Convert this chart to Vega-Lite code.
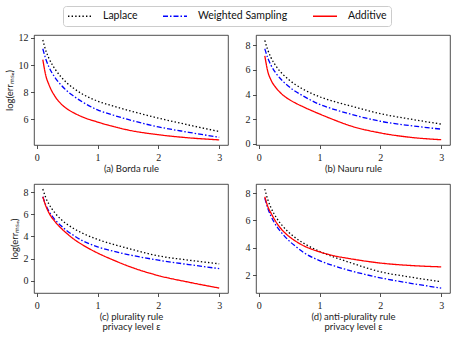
{
  "$schema": "https://vega.github.io/schema/vega-lite/v6.json",
  "padding": {"left": 3, "top": 5, "right": 4, "bottom": 3},
  "datasets": {
    "pts": [
      {"panel":"a","series":"Laplace","eps":0.1,"err":11.85},{"panel":"a","series":"Laplace","eps":0.15,"err":11.05},{"panel":"a","series":"Laplace","eps":0.2,"err":10.5},{"panel":"a","series":"Laplace","eps":0.3,"err":9.7},{"panel":"a","series":"Laplace","eps":0.4,"err":9.12},{"panel":"a","series":"Laplace","eps":0.5,"err":8.66},{"panel":"a","series":"Laplace","eps":0.6,"err":8.3},{"panel":"a","series":"Laplace","eps":0.75,"err":7.85},{"panel":"a","series":"Laplace","eps":1,"err":7.33},{"panel":"a","series":"Laplace","eps":1.25,"err":6.97},{"panel":"a","series":"Laplace","eps":1.5,"err":6.65},{"panel":"a","series":"Laplace","eps":2,"err":6.07},{"panel":"a","series":"Laplace","eps":2.5,"err":5.56},{"panel":"a","series":"Laplace","eps":3,"err":5.08},
      {"panel":"a","series":"Weighted Sampling","eps":0.1,"err":11.2},{"panel":"a","series":"Weighted Sampling","eps":0.15,"err":10.42},{"panel":"a","series":"Weighted Sampling","eps":0.2,"err":9.86},{"panel":"a","series":"Weighted Sampling","eps":0.3,"err":9.07},{"panel":"a","series":"Weighted Sampling","eps":0.4,"err":8.52},{"panel":"a","series":"Weighted Sampling","eps":0.5,"err":8.07},{"panel":"a","series":"Weighted Sampling","eps":0.6,"err":7.72},{"panel":"a","series":"Weighted Sampling","eps":0.75,"err":7.27},{"panel":"a","series":"Weighted Sampling","eps":1,"err":6.68},{"panel":"a","series":"Weighted Sampling","eps":1.25,"err":6.3},{"panel":"a","series":"Weighted Sampling","eps":1.5,"err":5.97},{"panel":"a","series":"Weighted Sampling","eps":2,"err":5.42},{"panel":"a","series":"Weighted Sampling","eps":2.5,"err":5.02},{"panel":"a","series":"Weighted Sampling","eps":3,"err":4.65},
      {"panel":"a","series":"Additive","eps":0.1,"err":10.4},{"panel":"a","series":"Additive","eps":0.15,"err":9.2},{"panel":"a","series":"Additive","eps":0.2,"err":8.55},{"panel":"a","series":"Additive","eps":0.3,"err":7.68},{"panel":"a","series":"Additive","eps":0.4,"err":7.12},{"panel":"a","series":"Additive","eps":0.5,"err":6.75},{"panel":"a","series":"Additive","eps":0.6,"err":6.48},{"panel":"a","series":"Additive","eps":0.75,"err":6.16},{"panel":"a","series":"Additive","eps":1,"err":5.78},{"panel":"a","series":"Additive","eps":1.25,"err":5.46},{"panel":"a","series":"Additive","eps":1.5,"err":5.19},{"panel":"a","series":"Additive","eps":2,"err":4.84},{"panel":"a","series":"Additive","eps":2.5,"err":4.61},{"panel":"a","series":"Additive","eps":3,"err":4.46},

      {"panel":"b","series":"Laplace","eps":0.1,"err":8.4},{"panel":"b","series":"Laplace","eps":0.15,"err":7.6},{"panel":"b","series":"Laplace","eps":0.2,"err":7.02},{"panel":"b","series":"Laplace","eps":0.3,"err":6.2},{"panel":"b","series":"Laplace","eps":0.4,"err":5.63},{"panel":"b","series":"Laplace","eps":0.5,"err":5.19},{"panel":"b","series":"Laplace","eps":0.6,"err":4.82},{"panel":"b","series":"Laplace","eps":0.75,"err":4.38},{"panel":"b","series":"Laplace","eps":1,"err":3.82},{"panel":"b","series":"Laplace","eps":1.25,"err":3.42},{"panel":"b","series":"Laplace","eps":1.5,"err":3.09},{"panel":"b","series":"Laplace","eps":2,"err":2.45},{"panel":"b","series":"Laplace","eps":2.5,"err":2.0},{"panel":"b","series":"Laplace","eps":3,"err":1.6},
      {"panel":"b","series":"Weighted Sampling","eps":0.1,"err":7.72},{"panel":"b","series":"Weighted Sampling","eps":0.15,"err":6.95},{"panel":"b","series":"Weighted Sampling","eps":0.2,"err":6.4},{"panel":"b","series":"Weighted Sampling","eps":0.3,"err":5.62},{"panel":"b","series":"Weighted Sampling","eps":0.4,"err":5.07},{"panel":"b","series":"Weighted Sampling","eps":0.5,"err":4.63},{"panel":"b","series":"Weighted Sampling","eps":0.6,"err":4.27},{"panel":"b","series":"Weighted Sampling","eps":0.75,"err":3.83},{"panel":"b","series":"Weighted Sampling","eps":1,"err":3.2},{"panel":"b","series":"Weighted Sampling","eps":1.25,"err":2.78},{"panel":"b","series":"Weighted Sampling","eps":1.5,"err":2.42},{"panel":"b","series":"Weighted Sampling","eps":2,"err":1.83},{"panel":"b","series":"Weighted Sampling","eps":2.5,"err":1.47},{"panel":"b","series":"Weighted Sampling","eps":3,"err":1.19},
      {"panel":"b","series":"Additive","eps":0.1,"err":7.15},{"panel":"b","series":"Additive","eps":0.15,"err":5.85},{"panel":"b","series":"Additive","eps":0.2,"err":5.2},{"panel":"b","series":"Additive","eps":0.3,"err":4.45},{"panel":"b","series":"Additive","eps":0.4,"err":3.95},{"panel":"b","series":"Additive","eps":0.5,"err":3.6},{"panel":"b","series":"Additive","eps":0.6,"err":3.32},{"panel":"b","series":"Additive","eps":0.75,"err":2.96},{"panel":"b","series":"Additive","eps":1,"err":2.42},{"panel":"b","series":"Additive","eps":1.25,"err":1.92},{"panel":"b","series":"Additive","eps":1.5,"err":1.47},{"panel":"b","series":"Additive","eps":2,"err":0.88},{"panel":"b","series":"Additive","eps":2.5,"err":0.52},{"panel":"b","series":"Additive","eps":3,"err":0.33},

      {"panel":"c","series":"Laplace","eps":0.1,"err":8.3},{"panel":"c","series":"Laplace","eps":0.15,"err":7.5},{"panel":"c","series":"Laplace","eps":0.2,"err":6.94},{"panel":"c","series":"Laplace","eps":0.3,"err":6.13},{"panel":"c","series":"Laplace","eps":0.4,"err":5.55},{"panel":"c","series":"Laplace","eps":0.5,"err":5.1},{"panel":"c","series":"Laplace","eps":0.6,"err":4.74},{"panel":"c","series":"Laplace","eps":0.75,"err":4.3},{"panel":"c","series":"Laplace","eps":1,"err":3.73},{"panel":"c","series":"Laplace","eps":1.25,"err":3.3},{"panel":"c","series":"Laplace","eps":1.5,"err":2.92},{"panel":"c","series":"Laplace","eps":2,"err":2.24},{"panel":"c","series":"Laplace","eps":2.5,"err":1.85},{"panel":"c","series":"Laplace","eps":3,"err":1.52},
      {"panel":"c","series":"Weighted Sampling","eps":0.1,"err":7.6},{"panel":"c","series":"Weighted Sampling","eps":0.15,"err":6.85},{"panel":"c","series":"Weighted Sampling","eps":0.2,"err":6.3},{"panel":"c","series":"Weighted Sampling","eps":0.3,"err":5.52},{"panel":"c","series":"Weighted Sampling","eps":0.4,"err":4.97},{"panel":"c","series":"Weighted Sampling","eps":0.5,"err":4.5},{"panel":"c","series":"Weighted Sampling","eps":0.6,"err":4.12},{"panel":"c","series":"Weighted Sampling","eps":0.75,"err":3.62},{"panel":"c","series":"Weighted Sampling","eps":1,"err":3.06},{"panel":"c","series":"Weighted Sampling","eps":1.25,"err":2.68},{"panel":"c","series":"Weighted Sampling","eps":1.5,"err":2.36},{"panel":"c","series":"Weighted Sampling","eps":2,"err":1.85},{"panel":"c","series":"Weighted Sampling","eps":2.5,"err":1.45},{"panel":"c","series":"Weighted Sampling","eps":3,"err":1.08},
      {"panel":"c","series":"Additive","eps":0.1,"err":7.6},{"panel":"c","series":"Additive","eps":0.15,"err":6.75},{"panel":"c","series":"Additive","eps":0.2,"err":6.15},{"panel":"c","series":"Additive","eps":0.3,"err":5.35},{"panel":"c","series":"Additive","eps":0.4,"err":4.75},{"panel":"c","series":"Additive","eps":0.5,"err":4.25},{"panel":"c","series":"Additive","eps":0.6,"err":3.8},{"panel":"c","series":"Additive","eps":0.75,"err":3.25},{"panel":"c","series":"Additive","eps":1,"err":2.5},{"panel":"c","series":"Additive","eps":1.25,"err":1.88},{"panel":"c","series":"Additive","eps":1.5,"err":1.32},{"panel":"c","series":"Additive","eps":2,"err":0.45},{"panel":"c","series":"Additive","eps":2.5,"err":-0.15},{"panel":"c","series":"Additive","eps":3,"err":-0.68},

      {"panel":"d","series":"Laplace","eps":0.1,"err":8.29},{"panel":"d","series":"Laplace","eps":0.15,"err":7.5},{"panel":"d","series":"Laplace","eps":0.2,"err":6.94},{"panel":"d","series":"Laplace","eps":0.3,"err":6.13},{"panel":"d","series":"Laplace","eps":0.4,"err":5.55},{"panel":"d","series":"Laplace","eps":0.5,"err":5.1},{"panel":"d","series":"Laplace","eps":0.6,"err":4.74},{"panel":"d","series":"Laplace","eps":0.75,"err":4.3},{"panel":"d","series":"Laplace","eps":1,"err":3.73},{"panel":"d","series":"Laplace","eps":1.25,"err":3.3},{"panel":"d","series":"Laplace","eps":1.5,"err":2.92},{"panel":"d","series":"Laplace","eps":2,"err":2.24},{"panel":"d","series":"Laplace","eps":2.5,"err":1.85},{"panel":"d","series":"Laplace","eps":3,"err":1.51},
      {"panel":"d","series":"Weighted Sampling","eps":0.1,"err":7.63},{"panel":"d","series":"Weighted Sampling","eps":0.15,"err":6.87},{"panel":"d","series":"Weighted Sampling","eps":0.2,"err":6.32},{"panel":"d","series":"Weighted Sampling","eps":0.3,"err":5.53},{"panel":"d","series":"Weighted Sampling","eps":0.4,"err":4.97},{"panel":"d","series":"Weighted Sampling","eps":0.5,"err":4.5},{"panel":"d","series":"Weighted Sampling","eps":0.6,"err":4.12},{"panel":"d","series":"Weighted Sampling","eps":0.75,"err":3.62},{"panel":"d","series":"Weighted Sampling","eps":1,"err":3.06},{"panel":"d","series":"Weighted Sampling","eps":1.25,"err":2.66},{"panel":"d","series":"Weighted Sampling","eps":1.5,"err":2.33},{"panel":"d","series":"Weighted Sampling","eps":2,"err":1.8},{"panel":"d","series":"Weighted Sampling","eps":2.5,"err":1.4},{"panel":"d","series":"Weighted Sampling","eps":3,"err":1.05},
      {"panel":"d","series":"Additive","eps":0.1,"err":7.73},{"panel":"d","series":"Additive","eps":0.15,"err":7.0},{"panel":"d","series":"Additive","eps":0.2,"err":6.55},{"panel":"d","series":"Additive","eps":0.3,"err":5.78},{"panel":"d","series":"Additive","eps":0.4,"err":5.22},{"panel":"d","series":"Additive","eps":0.5,"err":4.82},{"panel":"d","series":"Additive","eps":0.6,"err":4.5},{"panel":"d","series":"Additive","eps":0.75,"err":4.12},{"panel":"d","series":"Additive","eps":1,"err":3.7},{"panel":"d","series":"Additive","eps":1.25,"err":3.4},{"panel":"d","series":"Additive","eps":1.5,"err":3.2},{"panel":"d","series":"Additive","eps":2,"err":2.88},{"panel":"d","series":"Additive","eps":2.5,"err":2.7},{"panel":"d","series":"Additive","eps":3,"err":2.6}
    ]
  },
  "data": {"name": "pts"},
  "spacing": 10,
  "vconcat": [
    {
      "spacing": 15,
      "hconcat": [
        {
          "width": 194, "height": 110,
          "transform": [{"filter": "datum.panel === 'a'"}],
          "mark": {"type": "line", "strokeWidth": 1.3, "interpolate": "monotone"},
          "encoding": {
            "x": {"field": "eps", "type": "quantitative", "scale": {"domain": [-0.045, 3.145], "nice": false, "zero": false}, "axis": {"values": [0, 1, 2, 3], "title": "(a) Borda rule"}},
            "y": {"field": "err", "type": "quantitative", "scale": {"domain": [4.08, 12.22], "nice": false, "zero": false}, "axis": {"values": [6, 8, 10, 12], "title": "log(errₘₛₑ)"}},
            "color": {"field": "series", "type": "nominal", "scale": {"domain": ["Laplace", "Weighted Sampling", "Additive"], "range": ["#000000", "#0000ff", "#ff0000"]}, "legend": {"title": null}},
            "strokeDash": {"field": "series", "type": "nominal", "scale": {"domain": ["Laplace", "Weighted Sampling", "Additive"], "range": [[1.4, 2.2], [5, 2, 1.5, 2], [1, 0]]}, "legend": {"title": null}}
          }
        },
        {
          "width": 194, "height": 110,
          "transform": [{"filter": "datum.panel === 'b'"}],
          "mark": {"type": "line", "strokeWidth": 1.3, "interpolate": "monotone"},
          "encoding": {
            "x": {"field": "eps", "type": "quantitative", "scale": {"domain": [-0.045, 3.145], "nice": false, "zero": false}, "axis": {"values": [0, 1, 2, 3], "title": "(b) Nauru rule"}},
            "y": {"field": "err", "type": "quantitative", "scale": {"domain": [-0.1, 8.84], "nice": false, "zero": false}, "axis": {"values": [0, 2, 4, 6, 8], "title": null}},
            "color": {"field": "series", "type": "nominal", "scale": {"domain": ["Laplace", "Weighted Sampling", "Additive"], "range": ["#000000", "#0000ff", "#ff0000"]}, "legend": {"title": null}},
            "strokeDash": {"field": "series", "type": "nominal", "scale": {"domain": ["Laplace", "Weighted Sampling", "Additive"], "range": [[1.4, 2.2], [5, 2, 1.5, 2], [1, 0]]}, "legend": {"title": null}}
          }
        }
      ]
    },
    {
      "spacing": 15,
      "hconcat": [
        {
          "width": 194, "height": 109,
          "transform": [{"filter": "datum.panel === 'c'"}],
          "mark": {"type": "line", "strokeWidth": 1.3, "interpolate": "monotone"},
          "encoding": {
            "x": {"field": "eps", "type": "quantitative", "scale": {"domain": [-0.045, 3.145], "nice": false, "zero": false}, "axis": {"values": [0, 1, 2, 3], "title": ["(c) plurality rule", "privacy level ε"]}},
            "y": {"field": "err", "type": "quantitative", "scale": {"domain": [-1.13, 8.76], "nice": false, "zero": false}, "axis": {"values": [0, 2, 4, 6, 8], "title": "log(errₘₛₑ)"}},
            "color": {"field": "series", "type": "nominal", "scale": {"domain": ["Laplace", "Weighted Sampling", "Additive"], "range": ["#000000", "#0000ff", "#ff0000"]}, "legend": {"title": null}},
            "strokeDash": {"field": "series", "type": "nominal", "scale": {"domain": ["Laplace", "Weighted Sampling", "Additive"], "range": [[1.4, 2.2], [5, 2, 1.5, 2], [1, 0]]}, "legend": {"title": null}}
          }
        },
        {
          "width": 194, "height": 109,
          "transform": [{"filter": "datum.panel === 'd'"}],
          "mark": {"type": "line", "strokeWidth": 1.3, "interpolate": "monotone"},
          "encoding": {
            "x": {"field": "eps", "type": "quantitative", "scale": {"domain": [-0.045, 3.145], "nice": false, "zero": false}, "axis": {"values": [0, 1, 2, 3], "title": ["(d) anti-plurality rule", "privacy level ε"]}},
            "y": {"field": "err", "type": "quantitative", "scale": {"domain": [0.69, 8.66], "nice": false, "zero": false}, "axis": {"values": [2, 4, 6, 8], "title": null}},
            "color": {"field": "series", "type": "nominal", "scale": {"domain": ["Laplace", "Weighted Sampling", "Additive"], "range": ["#000000", "#0000ff", "#ff0000"]}, "legend": {"title": null}},
            "strokeDash": {"field": "series", "type": "nominal", "scale": {"domain": ["Laplace", "Weighted Sampling", "Additive"], "range": [[1.4, 2.2], [5, 2, 1.5, 2], [1, 0]]}, "legend": {"title": null}}
          }
        }
      ]
    }
  ],
  "config": {
    "font": "Lato",
    "view": {"stroke": "#222222", "strokeWidth": 0.8},
    "axis": {
      "domain": false, "grid": false, "ticks": true, "tickColor": "#222222", "tickSize": 3.5, "tickWidth": 0.8,
      "labelFont": "Liberation Serif", "labelFontSize": 10, "labelColor": "#222222", "labelPadding": 2.5,
      "titleFont": "Lato", "titleFontSize": 9.5, "titleFontWeight": "normal", "titleColor": "#222222", "titlePadding": 0, "titleLineHeight": 10
    },
    "axisX": {"labelPadding": 4, "titlePadding": 0.5},
    "axisY": {"titlePadding": 4},
    "legend": {
      "orient": "top", "direction": "horizontal", "offset": 6,
      "strokeColor": "#cccccc", "cornerRadius": 3, "padding": 4,
      "labelFont": "Lato", "labelFontSize": 10.5, "labelColor": "#111111", "labelOffset": 17,
      "symbolType": "M-2.4,0H2.4", "symbolSize": 100, "symbolOffset": 7, "symbolStrokeWidth": 1.5, "columnPadding": 22,
      "layout": {"top": {"anchor": "middle"}}
    }
  }
}
